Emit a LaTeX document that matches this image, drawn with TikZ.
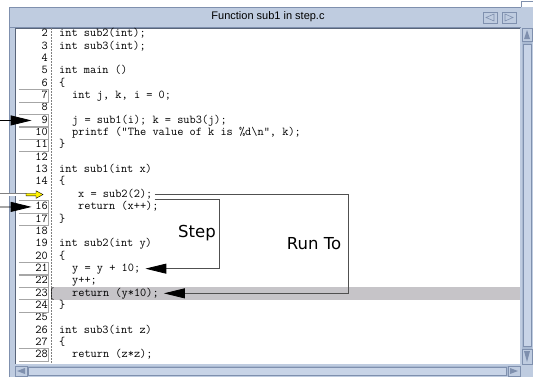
\documentclass[tikz,border=0pt]{standalone}
\usepackage{fontspec}
\newfontfamily\titlefont{Liberation Sans}
\newfontfamily\labelfont{DejaVu Sans}
\usetikzlibrary{arrows.meta}
\definecolor{framebg}{HTML}{BFCCE0}
\definecolor{frameedge}{HTML}{7F90AE}
\definecolor{trough}{HTML}{A9B9D1}
\definecolor{thumbbg}{HTML}{C8D4E7}
\definecolor{hilite}{HTML}{C6C4C8}
\definecolor{pathgray}{HTML}{505050}
\newcommand{\codefont}{\ttfamily\fontsize{12}{12}\selectfont}

\begin{document}
\begin{tikzpicture}[x=1pt,y=-1pt,
    lnum/.style={anchor=east,inner sep=0pt,text width=29pt,align=right,
      text height=8pt,text depth=2.5pt,minimum height=12.35pt,font=\codefont},
    code/.style={anchor=west,inner sep=0pt,text height=8pt,text depth=2.5pt,font=\codefont},
    numbox/.style={draw=gray!70,line width=0.5pt},
    bigtip/.style={-{Triangle[length=21pt,width=10pt,color=black]},line width=0.8pt},
    jumppath/.style={pathgray,line width=0.8pt,-{Triangle[length=21pt,width=10pt,color=black]}},
    btn/.style={fill=framebg,draw=frameedge,line width=0.5pt}]
  \useasboundingbox (0,0) rectangle (533,378);
  % window frame and title bar
  \fill[framebg] (9,7) rectangle (533,377);
  \draw[frameedge,line width=0.6pt] (9,377) -- (9,7) -- (521,7);
  \draw[frameedge,line width=0.6pt] (521,7) -- (521,1) -- (533,1);
  \draw[frameedge,line width=0.6pt] (9,27) -- (521,27);
  \node[font=\titlefont\fontsize{11}{11}\selectfont] (title) at (268,17) {Function sub1 in step.c};
  \draw[btn] (483,12) rectangle (497,23);
  \draw[frameedge,line width=0.6pt] (494,14) -- (486,17.5) -- (494,21) -- cycle;
  \draw[btn] (502,12) rectangle (516,23);
  \draw[frameedge,line width=0.6pt] (505,14) -- (513,17.5) -- (505,21) -- cycle;
  % scrollbars
  \fill[trough] (522,28) rectangle (532,364);
  \draw[btn] (522,28) rectangle (532,41);
  \fill[frameedge] (527,30) -- (530,39) -- (524,39) -- cycle;
  \draw[btn,fill=thumbbg] (523,44) rectangle (531,346);
  \draw[btn] (522,349) rectangle (532,364);
  \fill[frameedge] (527,362) -- (530,351) -- (524,351) -- cycle;
  \fill[trough] (15,366) rectangle (520,376);
  \draw[btn] (15,366) rectangle (27,376);
  \fill[frameedge] (17,371) -- (25,368) -- (25,374) -- cycle;
  \draw[btn,fill=thumbbg] (28,367) rectangle (506,375);
  \draw[btn] (508,366) rectangle (520,376);
  \fill[frameedge] (518,371) -- (510,368) -- (510,374) -- cycle;
  % text area
  \fill[white] (15,28) rectangle (520,364);
  \draw[frameedge!70!black,line width=0.5pt] (15,364) -- (15,28) -- (520,28);
  \fill[hilite] (52,287.2) rectangle (520,299.5);
  \draw[gray,line width=0.4pt,dash pattern=on 1.5pt off 1.5pt] (51,28) -- (51,364);
  \draw[line width=0.5pt] (53.5,287.5) -- (51.5,288.5) -- (51.5,298.5) -- (53.5,299.5);
  % line numbers
  \foreach \n in {2,...,14,16,17,...,28}
    \node[lnum] (n\n) at (48,{34+(\n-2)*12.35}) {\n};
  \foreach \n in {7,9,10,11,16,17,21,22,23,24,28}
    \draw[numbox] (n\n.north west) -| (n\n.south east) -- (n\n.south west);
  % source lines
  \node[code] (c2) at (59,34) {int sub2(int);};
  \node[code] (c3) at (59,46.35) {int sub3(int);};
  \node[code] (c5) at (59,71.05) {int main ()};
  \node[code] (c6) at (59,83.4) {\{};
  \node[code] (c7) at (72,95.75) {int j, k, i = 0;};
  \node[code] (c9) at (72,120.45) {j = sub1(i); k = sub3(j);};
  \node[code] (c10) at (72,132.8) {printf ("The value of k is \%d\textbackslash n", k);};
  \node[code] (c11) at (59,145.15) {\}};
  \node[code] (c13) at (59,169.85) {int sub1(int x)};
  \node[code] (c14) at (59,182.2) {\{};
  \node[code] (c15) at (78,194.55) {x = sub2(2);};
  \node[code] (c16) at (78,206.9) {return (x++);};
  \node[code] (c17) at (59,219.25) {\}};
  \node[code] (c19) at (59,243.95) {int sub2(int y)};
  \node[code] (c20) at (59,256.3) {\{};
  \node[code] (c21) at (72,268.65) {y = y + 10;};
  \node[code] (c22) at (72,281) {y++;};
  \node[code] (c23) at (72,293.35) {return (y*10);};
  \node[code] (c24) at (59,305.7) {\}};
  \node[code] (c26) at (59,330.4) {int sub3(int z)};
  \node[code] (c27) at (59,342.75) {\{};
  \node[code] (c28) at (72,355.1) {return (z*z);};
  % program counter marks
  \coordinate (in9) at (0,120.45);
  \coordinate (in15) at (0,194.55);
  \coordinate (in16) at (0,206.9);
  \coordinate (pc15) at (26,194.55);
  \draw[bigtip] (in9) -- ([xshift=13pt]n9.west);
  \draw[bigtip] (in16) -- ([xshift=13pt]n16.west);
  \draw[gray,double=white,double distance=2pt,line width=0.5pt] (in15) -- (pc15);
  \draw[fill=yellow,line width=0.4pt] (pc15) ++(0,-1.3) -- ++(10,0) -- ++(0,-2.5)
    -- ++(7,3.8) -- ++(-7,3.8) -- ++(0,-2.5) -- ++(-10,0) -- cycle;
  % step and run to paths
  \coordinate (stepc) at (219,268.65);
  \coordinate (runc) at (348,194.55);
  \draw[jumppath] ([xshift=2pt,yshift=-4.5pt]c15.east) -| (stepc) -- ([xshift=5pt]c21.east);
  \draw[jumppath] ([xshift=2pt]c15.east) -- (runc) |- ([xshift=5pt]c23.east);
  \node[font=\labelfont\fontsize{16.5}{16.5}\selectfont] (step) at (197,233) {Step};
  \node[font=\labelfont\fontsize{16.5}{16.5}\selectfont] (runto) at (314,244) {Run To};
\end{tikzpicture}
\end{document}
